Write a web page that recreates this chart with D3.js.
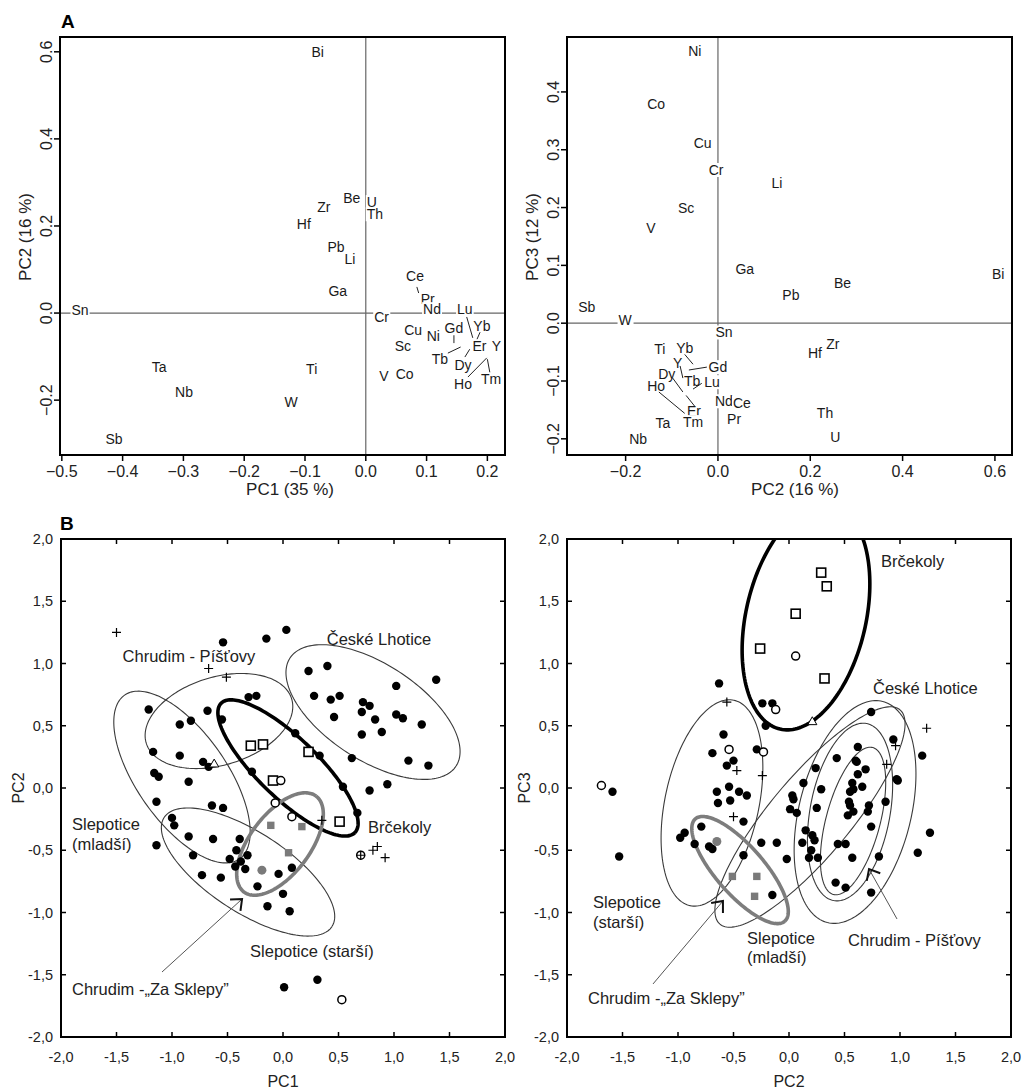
<!DOCTYPE html>
<html>
<head>
<meta charset="utf-8">
<script src="https://cdn.jsdelivr.net/npm/d3@7.9.0/dist/d3.min.js"></script>
<style>
body { margin: 0; background: #fff; }
svg text { font-family: "Liberation Sans", Arial, sans-serif; }
</style>
</head>
<body>
<svg id="chart" width="1024" height="1089"></svg>
<script>
// ---- panel A: loadings (label, x, y) ----
const loadA1 = [
  ['Bi', -0.079, 0.600], ['Be', -0.023, 0.264], ['U', 0.010, 0.255], ['Th', 0.015, 0.227],
  ['Zr', -0.069, 0.244], ['Hf', -0.102, 0.205], ['Pb', -0.049, 0.152], ['Li', -0.026, 0.124],
  ['Ga', -0.046, 0.051], ['Sn', -0.470, 0.007], ['Cr', 0.026, -0.009], ['Ce', 0.081, 0.085],
  ['Pr', 0.102, 0.032], ['Nd', 0.109, 0.009], ['Lu', 0.163, 0.009], ['Yb', 0.191, -0.030],
  ['Gd', 0.145, -0.035], ['Cu', 0.078, -0.039], ['Ni', 0.111, -0.053], ['Sc', 0.061, -0.076],
  ['Er', 0.187, -0.076], ['Y', 0.215, -0.076], ['Tb', 0.122, -0.106], ['Dy', 0.160, -0.120],
  ['Ho', 0.160, -0.163], ['Tm', 0.206, -0.152], ['V', 0.030, -0.145], ['Co', 0.064, -0.140],
  ['Ti', -0.089, -0.129], ['Ta', -0.340, -0.124], ['Nb', -0.299, -0.182], ['W', -0.123, -0.205],
  ['Sb', -0.414, -0.290]
];
const leadA1 = [
  [0.084, 0.060, 0.087, 0.046], [0.166, -0.009, 0.176, -0.057], [0.188, -0.044, 0.183, -0.060],
  [0.145, -0.051, 0.145, -0.069], [0.135, -0.092, 0.156, -0.078], [0.163, -0.101, 0.171, -0.083],
  [0.168, -0.147, 0.199, -0.103], [0.204, -0.136, 0.200, -0.106]
];
const loadA2 = [
  ['Ni', -0.050, 0.471], ['Co', -0.134, 0.379], ['Cu', -0.033, 0.312], ['Cr', -0.004, 0.265],
  ['Li', 0.128, 0.242], ['Sc', -0.069, 0.200], ['V', -0.145, 0.164], ['Ga', 0.058, 0.093],
  ['Bi', 0.607, 0.086], ['Be', 0.270, 0.069], ['Pb', 0.158, 0.048], ['Sb', -0.284, 0.028],
  ['W', -0.201, 0.005], ['Sn', 0.013, -0.016], ['Zr', 0.249, -0.036], ['Hf', 0.210, -0.052],
  ['Ti', -0.126, -0.045], ['Yb', -0.072, -0.043], ['Y', -0.087, -0.069], ['Gd', 0.000, -0.076],
  ['Dy', -0.111, -0.087], ['Tb', -0.056, -0.100], ['Lu', -0.013, -0.102], ['Ho', -0.134, -0.109],
  ['Nd', 0.013, -0.135], ['Ce', 0.052, -0.138], ['Er', -0.052, -0.152], ['Th', 0.232, -0.156],
  ['Tm', -0.054, -0.171], ['Ta', -0.119, -0.173], ['Pr', 0.035, -0.166], ['U', 0.254, -0.197],
  ['Nb', -0.173, -0.201]
];
const leadA2 = [
  [-0.072, -0.054, -0.054, -0.071], [-0.024, -0.076, -0.063, -0.081], [-0.082, -0.074, -0.076, -0.095],
  [-0.098, -0.095, -0.076, -0.119], [-0.035, -0.104, -0.054, -0.114], [-0.050, -0.144, -0.069, -0.125],
  [-0.128, -0.119, -0.072, -0.156]
];
const ticksA1x = [-0.5, -0.4, -0.3, -0.2, -0.1, 0.0, 0.1, 0.2];
const ticksA1y = [-0.2, 0.0, 0.2, 0.4, 0.6];
const ticksA2x = [-0.2, 0.0, 0.2, 0.4, 0.6];
const ticksA2y = [-0.2, -0.1, 0.0, 0.1, 0.2, 0.3, 0.4];

// ---- panel B: scores ----
const ticksB = [-2, -1.5, -1, -0.5, 0, 0.5, 1, 1.5, 2];

const b1Dots = [
  [-0.54, 1.17], [-0.15, 1.20], [0.03, 1.27], [0.23, 0.94], [0.40, 0.98], [1.38, 0.87], [1.02, 0.82],
  [-0.31, 0.73], [-0.24, 0.74], [0.28, 0.74], [0.43, 0.71], [0.51, 0.74], [0.72, 0.69], [0.78, 0.66],
  [0.71, 0.61], [0.46, 0.57], [0.83, 0.55], [1.02, 0.59], [1.08, 0.56], [1.25, 0.51], [0.89, 0.45],
  [0.71, 0.43], [-1.21, 0.63], [-0.68, 0.62], [-0.55, 0.55], [-0.93, 0.51], [-0.83, 0.54], [0.11, 0.44],
  [0.33, 0.26], [0.62, 0.24], [1.13, 0.22], [1.31, 0.18], [-1.17, 0.29], [-0.93, 0.26], [-0.72, 0.21],
  [-0.67, 0.17], [-0.28, 0.13], [-1.16, 0.12], [-1.12, 0.09], [-0.85, 0.05], [0.54, 0.01], [0.78, -0.02],
  [0.94, 0.03], [-1.14, -0.11], [-0.64, -0.14], [-0.54, -0.16], [0.67, -0.20], [-1.00, -0.24], [-0.98, -0.30],
  [-0.85, -0.39], [-0.63, -0.41], [-0.39, -0.41], [-1.14, -0.46], [-0.42, -0.50], [-0.81, -0.54], [-0.48, -0.57],
  [-0.32, -0.54], [-0.38, -0.59], [-0.43, -0.63], [-0.34, -0.65], [0.08, -0.64], [-0.04, -0.69], [-0.73, -0.70],
  [-0.56, -0.72], [-0.23, -0.79], [0.00, -0.85], [-0.14, -0.95], [0.06, -0.99], [0.01, -1.60], [0.31, -1.54]
];
const b1Open = [[-0.02, 0.06], [-0.07, -0.12], [0.08, -0.23], [0.70, -0.54], [0.53, -1.70]];
const b1Squares = [[-0.29, 0.34], [-0.18, 0.35], [0.23, 0.29], [-0.09, 0.06], [0.51, -0.27]];
const b1GraySq = [[-0.11, -0.30], [0.17, -0.31], [0.05, -0.52]];
const b1GrayDots = [[-0.19, -0.66]];
const b1Plus = [[-1.50, 1.25], [-0.67, 0.96], [-0.51, 0.89], [0.35, -0.26], [0.70, -0.54], [0.81, -0.50], [0.85, -0.47], [0.92, -0.56]];
const b1Tri = [[-0.62, 0.19]];

const b2Dots = [
  [-0.63, 0.84], [-0.24, 0.68], [-0.15, 0.68], [-0.21, 0.50], [0.74, 0.61], [-0.59, 0.43], [0.94, 0.39],
  [0.62, 0.33], [-0.29, 0.31], [-0.69, 0.28], [0.43, 0.24], [1.20, 0.26], [-0.50, 0.22], [0.60, 0.22],
  [-0.56, 0.18], [0.24, 0.16], [0.69, 0.15], [0.62, 0.11], [0.97, 0.07], [-1.59, -0.03], [-1.53, -0.55],
  [-0.65, -0.03], [-0.54, 0.01], [-0.45, -0.03], [-0.38, -0.06], [-0.64, -0.12], [-0.53, -0.10], [-0.41, -0.27],
  [-0.79, -0.31], [-0.94, -0.36], [-0.98, -0.40], [-0.85, -0.45], [-0.72, -0.47], [-0.69, -0.49], [-0.41, -0.54],
  [-0.25, -0.44], [-0.11, -0.44], [-0.02, -0.57], [-0.15, -0.86], [0.13, 0.04], [0.29, -0.01], [0.03, -0.06],
  [0.04, -0.09], [0.01, -0.17], [0.07, -0.20], [0.25, -0.16], [0.15, -0.34], [0.21, -0.38], [0.23, -0.42],
  [0.12, -0.44], [0.20, -0.50], [0.18, -0.56], [0.26, -0.56], [0.44, -0.45], [0.51, -0.45], [0.57, -0.56],
  [0.42, -0.76], [0.51, -0.80], [0.74, -0.84], [0.81, -0.55], [1.16, -0.52], [1.27, -0.36], [0.98, 0.06],
  [0.87, -0.11], [0.72, -0.14], [0.71, -0.19], [0.74, -0.31], [0.57, 0.04], [0.58, -0.01], [0.66, 0.01],
  [0.55, -0.03], [0.61, 0.21], [0.54, -0.11], [0.55, -0.14], [0.53, -0.22], [0.58, -0.19]
];
const b2Open = [[-1.69, 0.02], [0.06, 1.06], [-0.12, 0.63], [-0.54, 0.31], [-0.23, 0.29]];
const b2Squares = [[0.29, 1.73], [0.34, 1.62], [0.06, 1.40], [-0.26, 1.12], [0.32, 0.88]];
const b2GraySq = [[-0.51, -0.71], [-0.29, -0.71], [-0.31, -0.87]];
const b2GrayDots = [[-0.65, -0.43]];
const b2Plus = [[-0.56, 0.69], [1.24, 0.48], [0.96, 0.34], [0.88, 0.19], [-0.47, 0.14], [-0.24, 0.10], [-0.50, -0.23]];
const b2Tri = [[0.21, 0.53]];

// ellipses: centre x, centre y, half-axis u (x, y), half-axis v (x, y), style
const b1Ellipses = [
  [-0.577, 0.538, 0.655, 0.178, 0.116, -0.338, 'thin'],
  [-0.910, 0.088, 0.517, -0.658, -0.332, -0.207, 'thin'],
  [-0.315, -0.675, 0.756, -0.438, -0.196, -0.270, 'thin'],
  [0.811, 0.610, 0.748, -0.434, -0.236, -0.323, 'thin'],
  [0.045, 0.161, 0.603, -0.519, -0.188, -0.173, 'black'],
  [-0.027, -0.450, 0.325, 0.385, 0.216, -0.145, 'gray']
];
const b2Ellipses = [
  [-0.694, -0.120, 0.197, 0.825, 0.414, -0.079, 'thin'],
  [0.189, -0.233, 0.811, 0.861, 0.276, -0.207, 'thin'],
  [0.595, -0.193, 0.249, 0.888, 0.489, -0.109, 'thin'],
  [0.550, -0.193, 0.148, 0.711, 0.354, -0.059, 'thin'],
  [0.577, -0.265, 0.177, 0.590, 0.235, -0.056, 'thin'],
  [0.153, 1.373, 0.233, 0.900, 0.526, -0.108, 'black'],
  [-0.441, -0.659, 0.403, -0.411, -0.163, -0.127, 'gray']
];

// text notes: text, x, y, anchor
const b1Notes = [
  ['České Lhotice', 0.865, 1.149, 'middle'], ['Chrudim - Píšťovy', -0.847, 1.012, 'middle'],
  ['Slepotice', -1.901, -0.337, 'start'], ['(mladší)', -1.901, -0.498, 'start'],
  ['Brčekoly', 0.766, -0.361, 'start'], ['Slepotice (starší)', 0.261, -1.357, 'middle'],
  ['Chrudim -„Za Sklepy”', -1.901, -1.663, 'start']
];
const b1Arrows = [[-1.090, -1.478, -0.369, -0.892]];
const b2Notes = [
  ['Brčekoly', 0.829, 1.775, 'start'], ['České Lhotice', 0.757, 0.755, 'start'],
  ['Slepotice', -1.766, -0.964, 'start'], ['(starší)', -1.766, -1.124, 'start'],
  ['Slepotice', -0.378, -1.253, 'start'], ['(mladší)', -0.378, -1.406, 'start'],
  ['Chrudim - Píšťovy', 0.532, -1.269, 'start'], ['Chrudim -„Za Sklepy”', -1.811, -1.735, 'start']
];
const b2Arrows = [[-1.225, -1.574, -0.595, -0.908], [0.973, -1.052, 0.721, -0.651]];

const svg = d3.select('#chart');
svg.append('rect').attr('width', 1024).attr('height', 1089).attr('fill', '#fff');

function drawLoadings(o) {
  let x = d3.scaleLinear().domain(o.xd).range([o.x0, o.x1]);
  let y = d3.scaleLinear().domain(o.yd).range([o.y1, o.y0]);
  let g = svg.append('g');
  let fmt = d3.format('.1f');

  g.append('line').attr('x1', o.x0).attr('x2', o.x1).attr('y1', y(0)).attr('y2', y(0))
    .attr('stroke', '#666').attr('stroke-width', 1.2);
  g.append('line').attr('x1', x(0)).attr('x2', x(0)).attr('y1', o.y0).attr('y2', o.y1)
    .attr('stroke', '#666').attr('stroke-width', 1.2);

  o.labels.forEach(([name, vx, vy]) => {
    let t = g.append('text').attr('x', x(vx)).attr('y', y(vy)).attr('dy', '0.36em')
      .attr('text-anchor', 'middle').attr('font-size', 14).attr('fill', '#1a1a1a').text(name);
    let bb = t.node().getBBox();
    g.insert('rect', () => t.node())
      .attr('x', bb.x - 1).attr('y', bb.y + 1).attr('width', bb.width + 2).attr('height', bb.height - 2)
      .attr('fill', '#fff');
  });

  o.leaders.forEach(([ax, ay, bx, by]) => {
    g.append('line').attr('x1', x(ax)).attr('y1', y(ay)).attr('x2', x(bx)).attr('y2', y(by))
      .attr('stroke', '#222').attr('stroke-width', 1);
  });

  g.append('rect').attr('x', o.x0).attr('y', o.y0).attr('width', o.x1 - o.x0).attr('height', o.y1 - o.y0)
    .attr('fill', 'none').attr('stroke', '#000').attr('stroke-width', 2);

  o.xt.forEach(v => {
    g.append('line').attr('x1', x(v)).attr('x2', x(v)).attr('y1', o.y1).attr('y2', o.y1 + 6)
      .attr('stroke', '#000').attr('stroke-width', 1.5);
    g.append('text').attr('x', x(v)).attr('y', o.y1 + 22).attr('text-anchor', 'middle')
      .attr('font-size', 16).attr('fill', '#222').text(fmt(v));
  });
  o.yt.forEach(v => {
    g.append('line').attr('x1', o.x0).attr('x2', o.x0 - 6).attr('y1', y(v)).attr('y2', y(v))
      .attr('stroke', '#000').attr('stroke-width', 1.5);
    g.append('text').attr('transform', `translate(${o.x0 - 8},${y(v)}) rotate(-90)`)
      .attr('text-anchor', 'middle').attr('font-size', 16).attr('fill', '#222').text(fmt(v));
  });

  g.append('text').attr('x', o.xtx).attr('y', o.y1 + 40).attr('text-anchor', 'middle')
    .attr('font-size', 17).attr('fill', '#222').text(o.xlab);
  g.append('text').attr('transform', `translate(${o.x0 - 29},${o.yty}) rotate(-90)`)
    .attr('text-anchor', 'middle').attr('font-size', 17).attr('fill', '#222').text(o.ylab);
}

function ellipsePath(x, y, e) {
  let [cx, cy, ux, uy, vx, vy] = e;
  let pts = d3.range(0, 361, 2).map(d => {
    let t = d * Math.PI / 180;
    return [x(cx + ux * Math.cos(t) + vx * Math.sin(t)), y(cy + uy * Math.cos(t) + vy * Math.sin(t))];
  });
  return d3.line()(pts);
}

function drawScores(o) {
  let x = d3.scaleLinear().domain([-2, 2]).range([o.x0, o.x1]);
  let y = d3.scaleLinear().domain([-2, 2]).range([o.y1, o.y0]);
  let g = svg.append('g');
  let fmt = d3.formatLocale({ decimal: ',', thousands: '.', grouping: [3], currency: ['', ''], minus: '-' }).format('.1f');

  let clipId = 'clip' + o.id;
  svg.append('clipPath').attr('id', clipId).append('rect')
    .attr('x', o.x0).attr('y', o.y0).attr('width', o.x1 - o.x0).attr('height', o.y1 - o.y0);
  let plot = g.append('g').attr('clip-path', `url(#${clipId})`);

  let styles = {
    thin: { stroke: '#3a3a3a', w: 1.1 },
    black: { stroke: '#000', w: 3.6 },
    gray: { stroke: '#7d7d7d', w: 3.6 }
  };
  o.ellipses.forEach(e => {
    let s = styles[e[6]];
    plot.append('path').attr('d', ellipsePath(x, y, e)).attr('fill', 'none')
      .attr('stroke', s.stroke).attr('stroke-width', s.w);
  });

  o.arrows.forEach(([ax, ay, bx, by]) => {
    let x1 = x(ax), y1 = y(ay), x2 = x(bx), y2 = y(by);
    plot.append('line').attr('x1', x1).attr('y1', y1).attr('x2', x2).attr('y2', y2)
      .attr('stroke', '#555').attr('stroke-width', 1);
    let ang = Math.atan2(y1 - y2, x1 - x2);
    let arm = 12, spread = 0.7;
    let p1 = [x2 + arm * Math.cos(ang + spread), y2 + arm * Math.sin(ang + spread)];
    let p2 = [x2 + arm * Math.cos(ang - spread), y2 + arm * Math.sin(ang - spread)];
    plot.append('path').attr('d', d3.line()([p1, [x2, y2], p2])).attr('fill', 'none')
      .attr('stroke', '#111').attr('stroke-width', 2);
  });

  plot.selectAll(null).data(o.dots).join('circle')
    .attr('cx', d => x(d[0])).attr('cy', d => y(d[1])).attr('r', 4.2).attr('fill', '#000');
  plot.selectAll(null).data(o.grayDots).join('circle')
    .attr('cx', d => x(d[0])).attr('cy', d => y(d[1])).attr('r', 4.5).attr('fill', '#7a7a7a');
  plot.selectAll(null).data(o.graySq).join('rect')
    .attr('x', d => x(d[0]) - 3.7).attr('y', d => y(d[1]) - 3.7).attr('width', 7.4).attr('height', 7.4)
    .attr('fill', '#7a7a7a');
  plot.selectAll(null).data(o.squares).join('rect')
    .attr('x', d => x(d[0]) - 4.5).attr('y', d => y(d[1]) - 4.5).attr('width', 9).attr('height', 9)
    .attr('fill', '#fff').attr('stroke', '#000').attr('stroke-width', 1.6);
  plot.selectAll(null).data(o.open).join('circle')
    .attr('cx', d => x(d[0])).attr('cy', d => y(d[1])).attr('r', 4)
    .attr('fill', '#fff').attr('stroke', '#000').attr('stroke-width', 1.5);
  plot.selectAll(null).data(o.plus).join('path')
    .attr('d', d => `M${x(d[0]) - 4.5},${y(d[1])}h9M${x(d[0])},${y(d[1]) - 4.5}v9`)
    .attr('stroke', '#000').attr('stroke-width', 1.2);
  plot.selectAll(null).data(o.tri).join('path')
    .attr('transform', d => `translate(${x(d[0])},${y(d[1])})`)
    .attr('d', d3.symbol(d3.symbolTriangle, 36)).attr('fill', '#fff').attr('stroke', '#000').attr('stroke-width', 1);

  o.notes.forEach(([txt, vx, vy, anchor]) => {
    g.append('text').attr('x', x(vx)).attr('y', y(vy)).attr('text-anchor', anchor)
      .attr('font-size', 16.5).attr('fill', '#222').text(txt);
  });

  g.append('rect').attr('x', o.x0).attr('y', o.y0).attr('width', o.x1 - o.x0).attr('height', o.y1 - o.y0)
    .attr('fill', 'none').attr('stroke', '#000').attr('stroke-width', 2);

  ticksB.forEach(v => {
    g.append('line').attr('x1', x(v)).attr('x2', x(v)).attr('y1', o.y1).attr('y2', o.y1 - 5).attr('stroke', '#000').attr('stroke-width', 1.5);
    g.append('line').attr('x1', x(v)).attr('x2', x(v)).attr('y1', o.y0).attr('y2', o.y0 + 5).attr('stroke', '#000').attr('stroke-width', 1.5);
    g.append('line').attr('y1', y(v)).attr('y2', y(v)).attr('x1', o.x0).attr('x2', o.x0 + 5).attr('stroke', '#000').attr('stroke-width', 1.5);
    g.append('line').attr('y1', y(v)).attr('y2', y(v)).attr('x1', o.x1).attr('x2', o.x1 - 5).attr('stroke', '#000').attr('stroke-width', 1.5);
    g.append('text').attr('x', x(v)).attr('y', o.y1 + 25).attr('text-anchor', 'middle')
      .attr('font-size', 14.5).attr('fill', '#222').text(fmt(v));
    g.append('text').attr('x', o.x0 - 8).attr('y', y(v)).attr('dy', '0.36em').attr('text-anchor', 'end')
      .attr('font-size', 14.5).attr('fill', '#222').text(fmt(v));
  });

  g.append('text').attr('x', (o.x0 + o.x1) / 2).attr('y', 1087).attr('text-anchor', 'middle')
    .attr('font-size', 16).attr('fill', '#222').text(o.xlab);
  g.append('text').attr('transform', `translate(${o.x0 - 37},${y(0)}) rotate(-90)`)
    .attr('text-anchor', 'middle').attr('font-size', 16).attr('fill', '#222').text(o.ylab);
}

drawLoadings({ x0: 60, x1: 505, y0: 37, y1: 455, xd: [-0.503, 0.229], yd: [-0.326, 0.634],
  labels: loadA1, leaders: leadA1, xt: ticksA1x, yt: ticksA1y,
  xlab: 'PC1 (35 %)', ylab: 'PC2 (16 %)', xtx: 290, yty: 237 });
drawLoadings({ x0: 567, x1: 1012, y0: 37, y1: 455, xd: [-0.327, 0.637], yd: [-0.228, 0.495],
  labels: loadA2, leaders: leadA2, xt: ticksA2x, yt: ticksA2y,
  xlab: 'PC2 (16 %)', ylab: 'PC3 (12 %)', xtx: 795, yty: 237 });

drawScores({ id: 1, x0: 61, x1: 505, y0: 539, y1: 1037, ellipses: b1Ellipses, arrows: b1Arrows,
  dots: b1Dots, open: b1Open, squares: b1Squares, graySq: b1GraySq, grayDots: b1GrayDots,
  plus: b1Plus, tri: b1Tri, notes: b1Notes, xlab: 'PC1', ylab: 'PC2' });
drawScores({ id: 2, x0: 567, x1: 1011, y0: 539, y1: 1037, ellipses: b2Ellipses, arrows: b2Arrows,
  dots: b2Dots, open: b2Open, squares: b2Squares, graySq: b2GraySq, grayDots: b2GrayDots,
  plus: b2Plus, tri: b2Tri, notes: b2Notes, xlab: 'PC2', ylab: 'PC3' });

svg.append('text').attr('x', 61).attr('y', 28).attr('font-size', 19).attr('font-weight', 'bold').text('A');
svg.append('text').attr('x', 60).attr('y', 530).attr('font-size', 19).attr('font-weight', 'bold').text('B');
</script>
</body>
</html>
